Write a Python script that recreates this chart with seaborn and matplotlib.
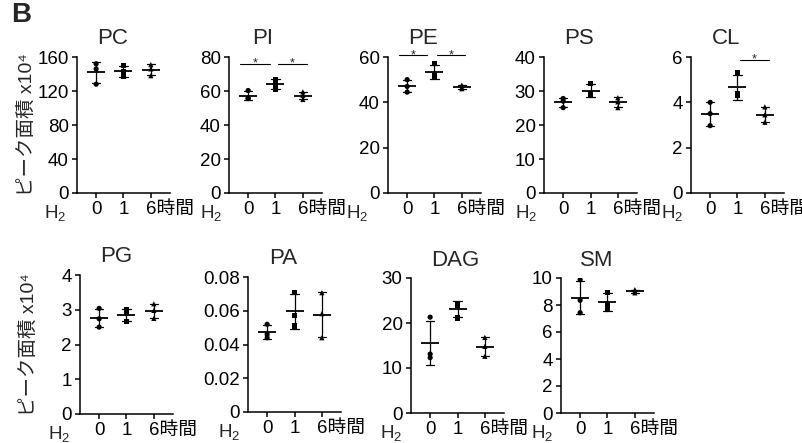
import numpy as np
import pandas as pd
import seaborn as sns
import matplotlib.pyplot as plt
from matplotlib.transforms import ScaledTranslation

# group levels (hours after H2) and their tick labels
groups = ['0', '1', '6']
group_labels = ['0', '1', '6時間']

# three replicates per group
pc = [[152, 146, 128], [150, 143, 137], [151, 146, 138]]
pi = [[60.3, 55.8, 55.5], [67, 64, 61], [59.5, 57.5, 55]]
pe = [[50, 47, 44.5], [57, 52, 51.5], [47.6, 46.5, 46.0]]
ps = [[27.8, 27, 25.1], [32.3, 29.3, 28.6], [28, 26.8, 25.1]]
cl = [[4.0, 3.5, 2.97], [5.3, 4.4, 4.3], [3.8, 3.45, 3.12]]
pg = [[3.04, 2.74, 2.5], [2.99, 2.92, 2.66], [3.17, 2.98, 2.75]]
pa = [[0.052, 0.046, 0.044], [0.071, 0.057, 0.051], [0.0707, 0.0583, 0.044]]
dag = [[21.3, 13.1, 12.3], [24.4, 23.8, 21.1], [16.8, 14.8, 12.6]]
sm = [[9.88, 8.35, 7.43], [8.94, 8.05, 7.7], [9.14, 9.04, 8.9]]

titles = ['PC', 'PI', 'PE', 'PS', 'CL', 'PG', 'PA', 'DAG', 'SM']
values = [pc, pi, pe, ps, cl, pg, pa, dag, sm]
yticks = [
    [0, 40, 80, 120, 160],
    [0, 20, 40, 60, 80],
    [0, 20, 40, 60],
    [0, 10, 20, 30, 40],
    [0, 2, 4, 6],
    [0, 1, 2, 3, 4],
    [0, 0.02, 0.04, 0.06, 0.08],
    [0, 10, 20, 30],
    [0, 2, 4, 6, 8, 10],
]
# significance brackets: (x start, x end, y)
sig_bars = {
    'PI': [(-0.29, 0.81, 76), (1.09, 2.14, 76)],
    'PE': [(-0.3, 0.71, 60.7), (1.1, 2.13, 60.7)],
    'CL': [(1.1, 2.15, 5.88)],
}
ylabel = 'ピーク面積 x10⁴'

sns.set_theme(style='ticks')
plt.rcParams['font.family'] = ['Liberation Sans', 'Noto Sans CJK JP', 'DejaVu Sans']
plt.rcParams['mathtext.fontset'] = 'custom'
plt.rcParams['mathtext.rm'] = 'Liberation Sans'
plt.rcParams['mathtext.it'] = 'Liberation Sans:italic'
plt.rcParams['axes.linewidth'] = 1.1
plt.rcParams['axes.edgecolor'] = 'black'

W, H = 803, 443
fig = plt.figure(figsize=(W / 100, H / 100), dpi=100)

# axes boxes in pixels: left, top, bottom
boxes = [
    (77, 57, 193), (229, 57, 193), (388, 57, 193), (544, 57, 193), (691, 57, 193),
    (80, 275, 414), (248, 277, 412), (411, 278, 413), (561, 278, 413),
]
h2_offset = [-11, -7, -20, -7, -8, -10, -8, -9, -8]
title_x = [0.38, 0.36, 0.38, 0.38, 0.38, 0.39, 0.38, 0.48, 0.38]
markers = {'0': 'o', '1': 's', '6': '^'}
fs = 13.5

for i, name in enumerate(titles):
    left, top, bottom = boxes[i]
    ax = fig.add_axes([left / W, 1 - bottom / H, 93 / W, (bottom - top) / H])

    df = pd.DataFrame({
        'group': np.repeat(groups, 3),
        'pos': np.repeat([0, 1, 2], 3),
        'value': np.ravel(values[i]),
    })

    sns.pointplot(data=df, x='pos', y='value', native_scale=True, errorbar='sd',
                  capsize=0.3, color='black', marker='_', markersize=13,
                  markeredgewidth=1.3, linestyle='none',
                  err_kws={'linewidth': 0.9}, ax=ax)
    sns.scatterplot(data=df, x='pos', y='value', style='group', markers=markers,
                    color='black', s=14, linewidth=0, legend=False, ax=ax)

    ax.set_xlim(-0.7, 2.7)
    ax.set_ylim(0, yticks[i][-1])
    ax.set_yticks(yticks[i])
    ax.set_yticklabels(['0' if v == 0 else f'{v:g}' for v in yticks[i]])
    ax.set_xticks([0, 1, 2])
    ax.set_xticklabels(group_labels)
    ax.set_xlabel('')
    ax.set_ylabel('')
    ax.tick_params(length=3.5, width=1.1, pad=2.5, labelsize=fs, colors='black')
    sns.despine(ax=ax)

    # keep the "6" under its tick, 時間 trailing to the right
    lab = ax.get_xticklabels()[2]
    lab.set_horizontalalignment('left')
    lab.set_transform(lab.get_transform() + ScaledTranslation(-5 / 100, 0, fig.dpi_scale_trans))

    ax.set_title(name, x=title_x[i], pad=9, fontsize=16)

    ax.annotate('H$_2$', xy=(0, 0), xycoords='axes fraction',
                xytext=(h2_offset[i], -20), textcoords='offset pixels',
                ha='right', va='center', fontsize=fs, annotation_clip=False)

    for x0, x1, y in sig_bars.get(name, []):
        ax.plot([x0, x1], [y, y], color='black', lw=0.8, clip_on=False)
        ax.annotate('*', xy=((x0 + x1) / 2, y), xytext=(0, -3), textcoords='offset pixels',
                    ha='center', va='baseline', fontsize=9, annotation_clip=False)

fig.text(27 / W, 1 - 125 / H, ylabel, rotation=90, ha='center', va='center', fontsize=14)
fig.text(29 / W, 1 - 345 / H, ylabel, rotation=90, ha='center', va='center', fontsize=14)
fig.text(11 / W, 1 - 2 / H, 'B', ha='left', va='top', fontsize=20, fontweight='heavy')

fig.savefig('out.png', dpi=100)
